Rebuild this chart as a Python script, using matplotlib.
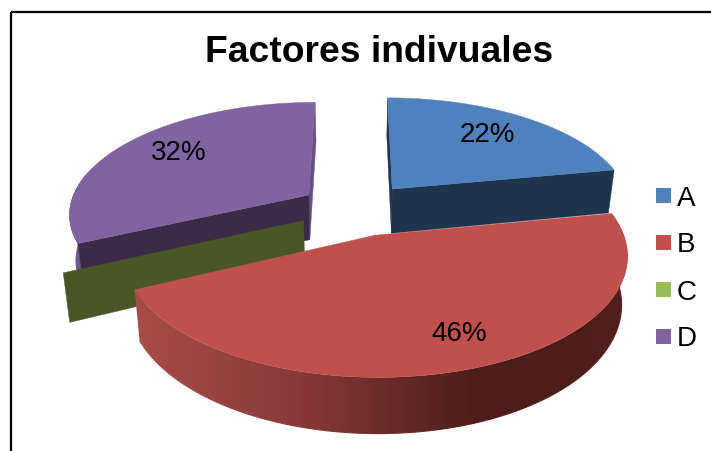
import numpy as np
import matplotlib
matplotlib.use("Agg")
import matplotlib.pyplot as plt
from matplotlib.patches import Polygon, Rectangle
from matplotlib.collections import LineCollection

categories = ["A", "B", "C", "D"]
values = [22, 46, 0, 32]
title = "Factores indivuales"

TOP = {"A": "#4f81bd", "B": "#c0504d", "C": "#9bbb59", "D": "#8064a2"}
WALL = {"A": "#1f344d", "B": "#4e1f1d", "C": "#4a5628", "D": "#3c2b47"}
LABEL_XY = {"A": (487, 135.5), "B": (459, 334), "D": (179, 152.5)}

plt.rcParams["font.family"] = ["Liberation Sans", "DejaVu Sans"]
fig = plt.figure(figsize=(7.11, 4.51), dpi=100)
ax = fig.add_axes([0, 0, 1, 1])
ax.axis("off")

# perspective projection of the exploded pie
VX, VY = 356.5, 209.0
SX, SY = 240.0, 111.0
PERSP, HEIGHT, SHRINK, EXPLODE = 0.155, 45.5, 0.978, 0.24


def project(X, Y, bottom=False):
    X, Y = np.asarray(X, float), np.asarray(Y, float)
    s = 1 / (1 + PERSP * Y)
    x = VX + SX * X * s
    y = VY - SY * Y * s
    if bottom:
        x = VX + (x - VX) * SHRINK
        y = y + HEIGHT * s
    return x, y


total = sum(values)
slices = {}
start = 0.0
for name, v in zip(categories, values):
    end = start + 360.0 * v / total
    mid = np.radians((start + end) / 2)
    slices[name] = (start, end, EXPLODE * np.sin(mid), EXPLODE * np.cos(mid))
    start = end


def rim(name, t):
    _, _, cx, cy = slices[name]
    t = np.radians(t)
    return cx + np.sin(t), cy + np.cos(t)


def wall(name, t, color, z):
    _, _, cx, cy = slices[name]
    rx, ry = rim(name, t)
    x0, y0 = project(cx, cy)
    x1, y1 = project(rx, ry)
    x2, y2 = project(rx, ry, True)
    x3, y3 = project(cx, cy, True)
    ax.add_patch(Polygon([(x0, y0), (x1, y1), (x2, y2), (x3, y3)], closed=True,
                         fc=color, ec=color, lw=0.3, zorder=z))


def top_face(name, z):
    a, b, cx, cy = slices[name]
    ts = np.linspace(a, b, 160)
    rx, ry = rim(name, ts)
    x, y = project(rx, ry)
    x0, y0 = project(cx, cy)
    pts = [(x0, y0)] + list(zip(x, y))
    ax.add_patch(Polygon(pts, closed=True, fc=TOP[name], ec=TOP[name], lw=0.3, zorder=z))


def band_outline(name, a, b, n=160):
    ts = np.linspace(a, b, n + 1)
    rx, ry = rim(name, ts)
    xt, yt = project(rx, ry)
    xb, yb = project(rx, ry, True)
    return xt, yt, xb, yb


def b_shade(x):
    pts = np.array([137, 300, 480, 530, 630])
    r = np.interp(x, pts, [168, 135, 76, 76, 80])
    g = np.interp(x, pts, [76, 58, 29, 29, 32])
    b = np.interp(x, pts, [73, 56, 27, 27, 30])
    return np.stack([r, g, b], axis=-1) / 255


d0, d1 = slices["D"][:2]
a0, a1 = slices["A"][:2]
b0, b1 = slices["B"][:2]

# flat rim of D
xt, yt, xb, yb = band_outline("D", d0, d0 + 38, 40)
ax.add_patch(Polygon(np.r_[np.c_[xt, yt], np.c_[xb, yb][::-1]], closed=True,
                     fc="#6f5790", ec="#6f5790", lw=0.3, zorder=1))
wall("D", d1, "#664f85", 2)
wall("D", d0, WALL["D"], 3)
wall("C", slices["C"][0], WALL["C"], 4)
wall("A", a0, "#1f344d", 5)
wall("A", a1, WALL["A"], 6)
top_face("A", 7)
top_face("D", 7)

# shaded rim of B: horizontal gradient clipped to the band
xt, yt, xb, yb = band_outline("B", b0, b1)
band = Polygon(np.r_[np.c_[xt, yt], np.c_[xb, yb][::-1]], closed=True, fc="none", ec="none",
               transform=ax.transData, zorder=8)
ax.add_patch(band)
gx = np.arange(120, 650)
img = ax.imshow(b_shade(gx + 0.5)[None, :, :], extent=(120, 650, 460, 200), aspect="auto",
                interpolation="nearest", zorder=8)
img.set_clip_path(band)
segs = np.stack([np.c_[xb[:-1], yb[:-1]], np.c_[xb[1:], yb[1:]]], axis=1)
ax.add_collection(LineCollection(segs, colors=b_shade((xb[:-1] + xb[1:]) / 2), lw=0.8, zorder=8))
top_face("B", 9)

ax.set_xlim(0, 711)
ax.set_ylim(451, 0)

for name, v in zip(categories, values):
    if v > 0:
        lx, ly = LABEL_XY[name]
        ax.text(lx, ly, f"{v}%", fontsize=20, ha="center", va="center",
                color="black", zorder=12)

# chart frame
ax.plot([11, 11], [451, 12], color="black", lw=1.6, zorder=20, solid_capstyle="butt")
ax.plot([11, 711], [12, 12], color="black", lw=1.6, zorder=20, solid_capstyle="butt")

ax.text(379, 52, title, fontsize=26.8, fontweight="bold", ha="center", va="center", color="black")

for i, name in enumerate(categories):
    y = 188 + 47 * i
    ax.add_patch(Rectangle((656, y), 15, 15, fc=TOP[name], ec="none", zorder=10))
    ax.text(677, y + 10.5, name, fontsize=20, ha="left", va="center", color="black", zorder=10)

fig.savefig("out.png", dpi=100, facecolor="white")
